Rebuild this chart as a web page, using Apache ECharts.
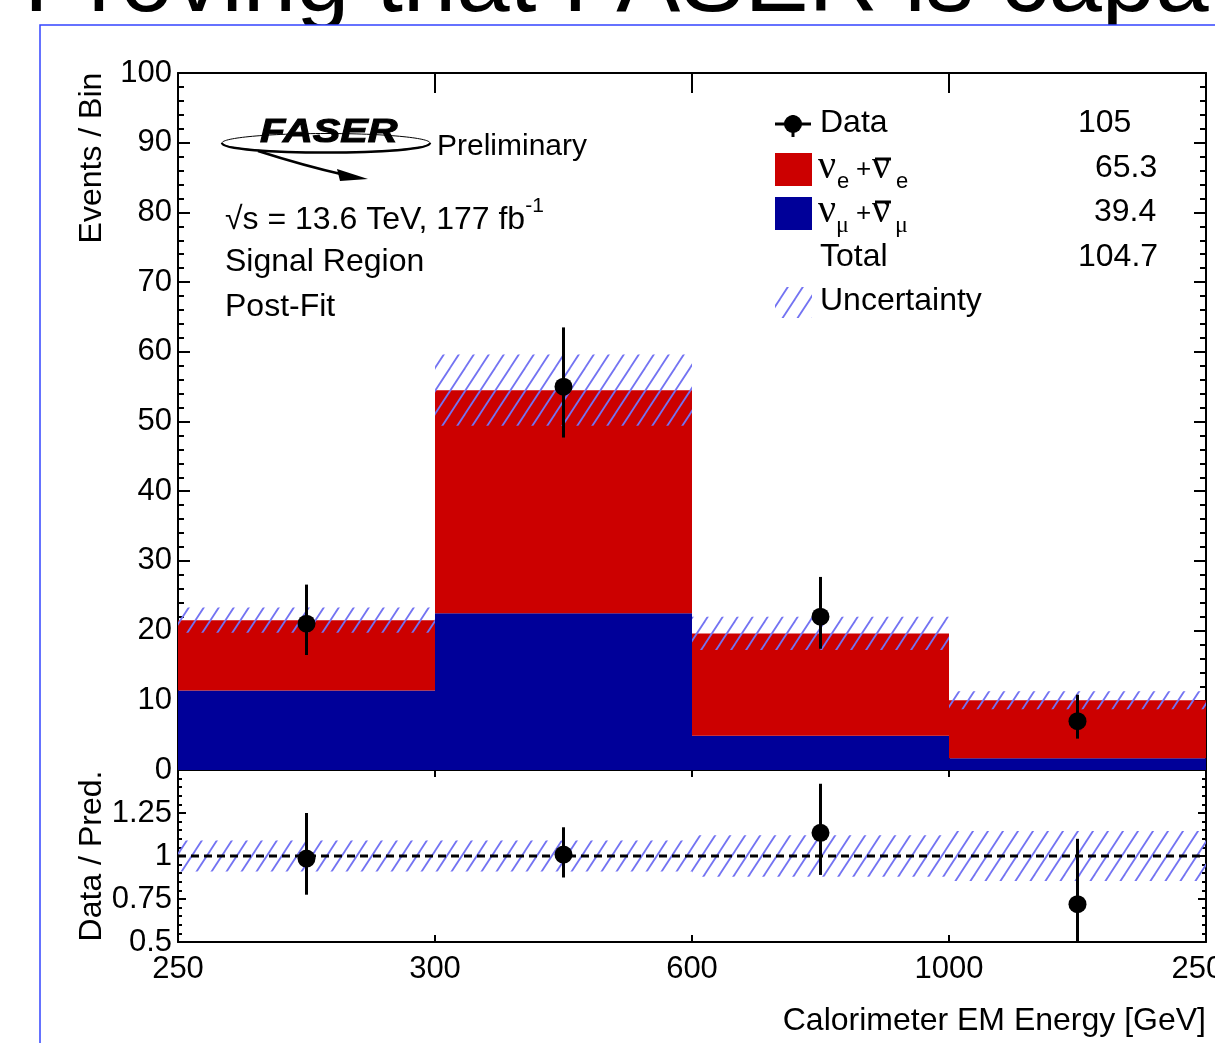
<!DOCTYPE html>
<html><head><meta charset="utf-8">
<script src="https://cdn.jsdelivr.net/npm/echarts@6/dist/echarts.min.js"></script>
<style>html,body{margin:0;padding:0;background:#fff;overflow:hidden}#c{width:1215px;height:1043px}</style>
</head><body><div id="c"></div>
<script>
// ---- data ----
const binEdgeLabels = ['250', '300', '600', '1000', '2500'];
const numuValues = [11.4, 22.5, 4.9, 1.7];          // nu_mu + anti-nu_mu (blue)
const nueValues = [10.1, 32.0, 14.7, 8.3];          // nu_e + anti-nu_e (red, stacked)
const predUncertainty = [1.8, 5.1, 2.4, 1.3];       // +/- on total prediction
const dataValues = [21, 55, 22, 7];
const dataLow = [16.5, 47.7, 17.4, 4.5];
const dataHigh = [26.6, 63.5, 27.7, 10.8];
const ratioValues = [0.985, 1.008, 1.135, 0.72];
const ratioLow = [0.775, 0.875, 0.89, 0.45];
const ratioHigh = [1.25, 1.167, 1.42, 1.10];
const ratioUncertainty = [0.09, 0.09, 0.12, 0.145];
const legendRows = [
  {label: 'Data', value: '105'},
  {label: 'nue', value: '65.3'},
  {label: 'numu', value: '39.4'},
  {label: 'Total', value: '104.7'},
  {label: 'Uncertainty', value: ''}
];

const FONT = '"Liberation Sans", Arial, Helvetica, sans-serif';
const SERIF = '"Liberation Serif", "Times New Roman", serif';
const RED = '#cc0000', BLUE = '#000099', HATCH = '#7373f2';

function makeHatch() {
  const w = 15, h = 23;
  const c = document.createElement('canvas'); c.width = w; c.height = h;
  const g = c.getContext('2d');
  g.strokeStyle = HATCH; g.lineWidth = 1.8;
  for (const dx of [-w, 0, w]) {
    g.beginPath(); g.moveTo(dx - w, 2 * h); g.lineTo(dx + 2 * w, -h); g.stroke();
  }
  return c;
}
const hatchFill = {image: makeHatch(), repeat: 'repeat'};

function rectFrom(api, x0, x1, y0, y1, style) {
  const a = api.coord([x0, y0]), b = api.coord([x1, y1]);
  return {type: 'rect', shape: {x: Math.min(a[0], b[0]), y: Math.min(a[1], b[1]),
    width: Math.abs(b[0] - a[0]), height: Math.abs(b[1] - a[1])}, style};
}
function bandSeries(xi, yi, rows, style, z) {
  return {type: 'custom', xAxisIndex: xi, yAxisIndex: yi, z, silent: true,
    data: rows,
    renderItem: (p, api) => rectFrom(api, api.value(0), api.value(0) + 1, api.value(1), api.value(2), style)};
}
function pointSeries(xi, yi, rows) {
  return {type: 'custom', xAxisIndex: xi, yAxisIndex: yi, z: 6, silent: true, data: rows,
    renderItem: (params, api) => {
      const x = api.value(0);
      const p = api.coord([x, api.value(1)]), pl = api.coord([x, api.value(2)]), ph = api.coord([x, api.value(3)]);
      const cs = params.coordSys;
      const yb = Math.min(pl[1], cs.y + cs.height), yt = Math.max(ph[1], cs.y);
      return {type: 'group', children: [
        {type: 'line', shape: {x1: p[0], y1: yt, x2: p[0], y2: yb}, style: {stroke: '#000', lineWidth: 3}},
        {type: 'circle', shape: {cx: p[0], cy: p[1], r: 9}, style: {fill: '#000'}}
      ]};
    }};
}

const totals = numuValues.map((v, i) => v + nueValues[i]);
const axisLine = {show: true, onZero: false, lineStyle: {color: '#000', width: 2}};
const tickStyle = {color: '#000', width: 2};
const labelStyle = {color: '#000', fontFamily: FONT, fontSize: 31};

function xAxisDef(grid, pos, tickLen, labels) {
  return {type: 'value', gridIndex: grid, position: pos, min: 0, max: 4, interval: 1,
    axisLine, splitLine: {show: false},
    axisTick: {show: true, inside: true, length: tickLen, lineStyle: tickStyle},
    axisLabel: labels ? Object.assign({show: true, margin: 12, showMinLabel: true, showMaxLabel: true,
      formatter: v => binEdgeLabels[Math.round(v)]}, labelStyle) : {show: false}};
}
function yAxisDef(grid, pos, min, max, interval, tickLen, labels, fmt) {
  return {type: 'value', gridIndex: grid, position: pos, min, max, interval,
    axisLine, splitLine: {show: false},
    axisTick: {show: true, inside: true, length: tickLen, lineStyle: tickStyle},
    minorTick: {show: true, splitNumber: 5, length: tickLen / 2, lineStyle: tickStyle},
    minorSplitLine: {show: false},
    axisLabel: labels ? Object.assign({show: true, margin: 6, showMinLabel: true, showMaxLabel: true, formatter: fmt}, labelStyle) : {show: false}};
}

const T = (text, x, y, extra, el) => Object.assign({type: 'text', x, y, z: 50, style: Object.assign({text, fill: '#000', font: '32px ' + FONT, align: 'left', verticalAlign: 'middle'}, extra || {})}, el || {});

const graphics = [
  // slide title behind the chart picture
  {type: 'text', x: 24, y: -15, z: -20, style: {text: 'Proving that FASER is capa', fill: '#000', font: '96px ' + FONT, align: 'left', verticalAlign: 'middle'}},
  {type: 'rect', z: -10, shape: {x: 40, y: 25, width: 1300, height: 1100}, style: {fill: '#fff', stroke: '#3344ff', lineWidth: 1.5}},
  // FASER logo
  {type: 'ellipse', z: 50, shape: {cx: 326, cy: 143, rx: 104, ry: 9.5}, style: {fill: null, stroke: '#000', lineWidth: 1}},
  {type: 'bezierCurve', z: 50, shape: {x1: 222, y1: 143, cpx1: 222, cpy1: 155.7, cpx2: 430, cpy2: 155.7, x2: 430, y2: 143}, style: {fill: null, stroke: '#000', lineWidth: 2.5}},
  {type: 'bezierCurve', z: 50, shape: {x1: 258, y1: 151, cpx1: 305, cpy1: 166, x2: 345, y2: 175}, style: {fill: null, stroke: '#000', lineWidth: 2.5}},
  {type: 'polygon', z: 50, shape: {points: [[368, 179], [337, 169], [340, 181]]}, style: {fill: '#000'}},
  {type: 'text', x: 260, y: 133, z: 51, scaleX: 1.25, style: {text: 'FASER', fill: '#000', font: 'italic 900 33px ' + FONT, align: 'left', verticalAlign: 'middle', stroke: '#000', lineWidth: 1}},
  T('Preliminary', 437, 147, {font: '30px ' + FONT}),
  {type: 'text', x: 225, y: 216, z: 50, style: {text: '{a|√s = 13.6 TeV, 177 fb}{s|-1}', fill: '#000', align: 'left', verticalAlign: 'middle',
    rich: {a: {fontSize: 32, fontFamily: FONT, lineHeight: 40, verticalAlign: 'bottom'}, s: {fontSize: 21, fontFamily: FONT, lineHeight: 22, verticalAlign: 'top'}}}},
  T('Signal Region', 225, 262),
  T('Post-Fit', 225, 307),
  // axis titles
  T('Events / Bin', 92, 158, {align: 'center'}, {rotation: Math.PI / 2}),
  T('Data / Pred.', 92, 856, {align: 'center'}, {rotation: Math.PI / 2}),
  T('Calorimeter EM Energy [GeV]', 1206, 1021, {align: 'right'}),
  // legend: Data
  {type: 'line', z: 50, shape: {x1: 775, y1: 124, x2: 811, y2: 124}, style: {stroke: '#000', lineWidth: 3}},
  {type: 'line', z: 50, shape: {x1: 793, y1: 115, x2: 793, y2: 137}, style: {stroke: '#000', lineWidth: 3}},
  {type: 'circle', z: 50, shape: {cx: 793, cy: 124, r: 9}, style: {fill: '#000'}},
  T(legendRows[0].label, 820, 123),
  // nu_e row
  {type: 'rect', z: 50, shape: {x: 775, y: 153, width: 37, height: 33}, style: {fill: RED}},
  T('ν', 818, 167, {font: '40px ' + SERIF}),
  T('e', 837, 182, {font: '22px ' + FONT}),
  T('+', 856, 170, {font: '26px ' + FONT}),
  T('ν', 872, 167, {font: '40px ' + SERIF}),
  {type: 'line', z: 50, shape: {x1: 875, y1: 159, x2: 891, y2: 159}, style: {stroke: '#000', lineWidth: 3}},
  T('e', 896, 182, {font: '22px ' + FONT}),
  // nu_mu row
  {type: 'rect', z: 50, shape: {x: 775, y: 197, width: 37, height: 33}, style: {fill: BLUE}},
  T('ν', 818, 211, {font: '40px ' + SERIF}),
  T('μ', 836, 226, {font: '24px ' + SERIF}),
  T('+', 856, 214, {font: '26px ' + FONT}),
  T('ν', 872, 211, {font: '40px ' + SERIF}),
  {type: 'line', z: 50, shape: {x1: 875, y1: 202, x2: 891, y2: 202}, style: {stroke: '#000', lineWidth: 3}},
  T('μ', 895, 226, {font: '24px ' + SERIF}),
  T(legendRows[3].label, 820, 257),
  {type: 'rect', z: 50, shape: {x: 775, y: 287, width: 37, height: 31}, style: {fill: hatchFill}},
  T(legendRows[4].label, 820, 301),
  // legend yields
  T(legendRows[0].value, 1078, 123),
  T(legendRows[1].value, 1095, 168),
  T(legendRows[2].value, 1094, 212),
  T(legendRows[3].value, 1078, 257)
];

const option = {
  animation: false,
  backgroundColor: 'transparent',
  textStyle: {fontFamily: FONT},
  grid: [
    {left: 178, top: 73, width: 1028, height: 697, containLabel: false, outerBoundsMode: 'none'},
    {left: 178, top: 770, width: 1028, height: 172, containLabel: false, outerBoundsMode: 'none'}
  ],
  xAxis: [
    xAxisDef(0, 'bottom', 22, false),
    xAxisDef(0, 'top', 20, false),
    xAxisDef(1, 'bottom', 7, true),
    xAxisDef(1, 'top', 7, false)
  ],
  yAxis: [
    yAxisDef(0, 'left', 0, 100, 10, 12, true, v => String(v)),
    yAxisDef(0, 'right', 0, 100, 10, 12, false),
    yAxisDef(1, 'left', 0.5, 1.5, 0.25, 8, true, v => (Math.abs(v - 1.5) < 1e-6 ? '' : String(+v.toFixed(2)))),
    yAxisDef(1, 'right', 0.5, 1.5, 0.25, 8, false)
  ],
  graphic: {elements: graphics},
  series: [
    bandSeries(0, 0, numuValues.map((v, i) => [i, 0, v]), {fill: BLUE}, 2),
    bandSeries(0, 0, nueValues.map((v, i) => [i, numuValues[i], numuValues[i] + v]), {fill: RED}, 2),
    bandSeries(0, 0, predUncertainty.map((u, i) => [i, totals[i] - u, totals[i] + u]), {fill: hatchFill}, 3),
    pointSeries(0, 0, dataValues.map((v, i) => [i + 0.5, v, dataLow[i], dataHigh[i]])),
    bandSeries(2, 2, ratioUncertainty.map((u, i) => [i, 1 - u, 1 + u]), {fill: hatchFill}, 3),
    {type: 'line', xAxisIndex: 2, yAxisIndex: 2, z: 4, silent: true, symbol: 'none',
      data: [[0, 1], [4, 1]], lineStyle: {color: '#000', width: 3, type: [8, 5]}},
    pointSeries(2, 2, ratioValues.map((v, i) => [i + 0.5, v, ratioLow[i], ratioHigh[i]]))
  ]
};
const chart = echarts.init(document.getElementById('c'), null, {renderer: 'canvas', width: 1215, height: 1043});
chart.setOption(option);
</script>
</body></html>
